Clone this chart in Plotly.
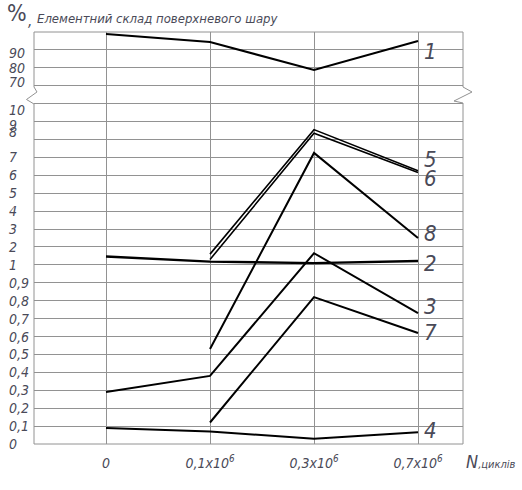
import plotly.graph_objects as go

# ---- data ----
x_labels = ["0", "0,1x10<sup>6</sup>", "0,3x10<sup>6</sup>", "0,7x10<sup>6</sup>"]
x_idx = [0, 1, 2, 3]

series_names = ["1", "2", "3", "4", "5", "6", "7", "8"]
s1 = [98.9, 94.4, 78.8, 95.0]
s2 = [1.47, 1.18, 1.10, 1.22]
s3 = [0.29, 0.38, 1.65, 0.73]
s4 = [0.09, 0.07, 0.03, 0.065]
s5 = [None, 1.60, 8.55, 6.25]
s6 = [None, 1.30, 8.35, 6.15]
s7 = [None, 0.12, 0.82, 0.62]
s8 = [None, 0.53, 7.25, 2.50]

y_ticks = [0, 0.1, 0.2, 0.3, 0.4, 0.5, 0.6, 0.7, 0.8, 0.9, 1,
           2, 3, 4, 5, 6, 7, 8, 9, 10, 70, 80, 90, 100]
y_tick_text = ["0", "0,1", "0,2", "0,3", "0,4", "0,5", "0,6", "0,7", "0,8", "0,9", "1",
               "2", "3", "4", "5", "6", "7", "8", "9", "10", "70", "80", "90", ""]


# piecewise (broken) value scale: 0-1 step 0.1, 1-10 step 1, gap, 70-100 step 10
def pos(v):
    if v is None:
        return None
    if v <= 1:
        return v * 10
    if v <= 10:
        return 10 + (v - 1)
    return 20 + (v - 70) / 10


# ---- layout geometry ----
W, H = 522, 490
L, R, T, B = 34, 59, 32, 46
PW, PH = W - L - R, H - T - B


def px(xp):
    return (xp - L) / PW


def py(yp):
    return (H - B - yp) / PH


FONT = "Liberation Sans Narrow, DejaVu Sans Condensed, Liberation Sans, sans-serif"
TXT = "#4a4a58"
GRID = "#929292"

fig = go.Figure()

data = [s1, s2, s3, s4, s5, s6, s7, s8]
widths = [2, 2.4, 2, 2, 1.6, 1.6, 2, 2]
for name, vals, w in zip(series_names, data, widths):
    fig.add_trace(go.Scatter(
        x=x_idx, y=[pos(v) for v in vals], mode="lines", name=name,
        line=dict(color="black", width=w), showlegend=False, hoverinfo="skip"))

# curve number labels at line ends
label_shift = {"1": -11, "2": -3, "3": 7, "4": 2, "5": 11, "6": -6, "7": 0, "8": 5}
for name, vals in zip(series_names, data):
    fig.add_annotation(x=x_idx[-1], y=pos(vals[-1]), text=name, showarrow=False,
                       xanchor="center", yanchor="middle", xshift=12,
                       yshift=label_shift[name],
                       font=dict(family=FONT, size=22, color=TXT, style="italic"))

# y tick labels (left aligned)
ytick_shift = {"10": -6, "9": -3, "8": 7, "70": 4, "90": -3}
for v, t in zip(y_ticks, y_tick_text):
    if not t:
        continue
    fig.add_annotation(x=px(7), xref="paper", y=pos(v), yref="y", text=t,
                       showarrow=False, xanchor="left", yanchor="middle",
                       yshift=ytick_shift.get(t, 0),
                       font=dict(family=FONT, size=14, color=TXT, style="italic"))

# title
fig.add_annotation(x=px(5), xref="paper", y=py(13), yref="paper", text="%",
                   showarrow=False, xanchor="left", yanchor="middle",
                   font=dict(family=FONT, size=23, color=TXT))
fig.add_annotation(x=px(35), xref="paper", y=py(19), yref="paper",
                   text="Елементний склад поверхневого шару",
                   showarrow=False, xanchor="left", yanchor="middle",
                   font=dict(family=FONT, size=13, color=TXT, style="italic"))
fig.add_annotation(x=px(26), xref="paper", y=py(21), yref="paper", text=",",
                   showarrow=False, xanchor="left", yanchor="middle",
                   font=dict(family=FONT, size=15, color=TXT, style="italic"))
# x axis title
fig.add_annotation(x=px(464), xref="paper", y=py(461), yref="paper",
                   text="N<span style='font-size:11px'>,циклів</span>",
                   showarrow=False, xanchor="left", yanchor="middle",
                   font=dict(family=FONT, size=18, color=TXT, style="italic"))

# frame with breaks
shapes = []
line = dict(color=GRID, width=1)
shapes.append(dict(type="line", xref="paper", yref="paper", x0=0, x1=1, y0=1, y1=1, line=line))
shapes.append(dict(type="line", xref="paper", yref="paper", x0=0, x1=1, y0=0, y1=0, line=line))
shapes.append(dict(type="line", xref="paper", yref="paper", x0=0, x1=0, y0=0, y1=py(104), line=line))
shapes.append(dict(type="line", xref="paper", yref="paper", x0=0, x1=0, y0=py(87), y1=1, line=line))
shapes.append(dict(type="line", xref="paper", yref="paper", x0=1, x1=1, y0=0, y1=py(103), line=line))
shapes.append(dict(type="line", xref="paper", yref="paper", x0=1, x1=1, y0=py(87), y1=1, line=line))


def zig(pts):
    p = "M " + " L ".join(f"{px(a):.5f},{py(b):.5f}" for a, b in pts)
    return dict(type="path", xref="paper", yref="paper", path=p, line=line)


shapes.append(zig([(34, 87), (37, 92), (26.5, 99.5), (34, 104)]))
shapes.append(zig([(463, 87), (472, 92), (454, 101), (463, 103)]))

fig.update_layout(
    width=W, height=H,
    margin=dict(l=L, r=R, t=T, b=B),
    paper_bgcolor="white", plot_bgcolor="white",
    shapes=shapes,
    xaxis=dict(range=[-72 / 104, -72 / 104 + PW / 104], tickvals=x_idx, ticktext=x_labels,
               showgrid=True, gridcolor=GRID, gridwidth=1, zeroline=False,
               showline=False, ticks="", ticklabelstandoff=9,
               tickfont=dict(family=FONT, size=14, color=TXT, style="italic"),
               fixedrange=True),
    yaxis=dict(range=[0, 23], tickmode="array", tickvals=[pos(v) for v in y_ticks],
               showticklabels=False, showgrid=True, gridcolor=GRID, gridwidth=1,
               zeroline=False, showline=False, ticks="", fixedrange=True),
)

fig.write_html("out.html", config={"displayModeBar": False},
               post_script="document.body.style.margin='0';document.body.style.padding='0';")
